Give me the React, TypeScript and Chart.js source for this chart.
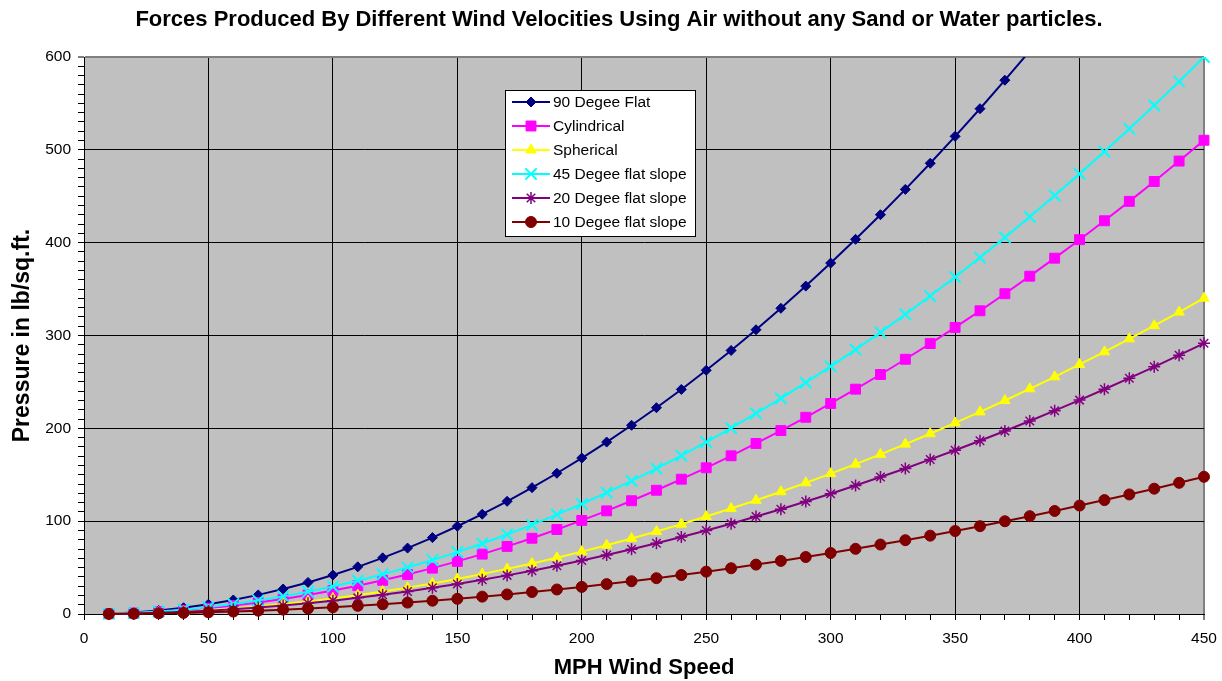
import React, { useEffect, useRef } from "react";
import { Chart, registerables } from "chart.js";
import { drawPoint } from "chart.js/helpers";

Chart.register(...registerables);

const speeds = [10, 20, 30, 40, 50, 60, 70, 80, 90, 100, 110, 120, 130, 140, 150, 160, 170, 180, 190, 200, 210, 220, 230, 240, 250, 260, 270, 280, 290, 300, 310, 320, 330, 340, 350, 360, 370, 380, 390, 400, 410, 420, 430, 440, 450];

const flat90 = [0.4, 1.7, 3.8, 6.7, 10.5, 15.1, 20.6, 26.9, 34.0, 42.0, 50.8, 60.5, 71.0, 82.3, 94.5, 107.5, 121.4, 136.1, 151.6, 168.0, 185.2, 203.3, 222.2, 241.9, 262.5, 283.9, 306.2, 329.3, 353.2, 378.0, 403.6, 430.1, 457.4, 485.5, 514.5, 544.3, 575.0, 606.5, 638.8, 672.0, 706.0, 740.9, 776.6, 813.1, 850.5];
const cylindrical = [0.3, 1.0, 2.3, 4.0, 6.3, 9.1, 12.3, 16.1, 20.4, 25.2, 30.5, 36.3, 42.6, 49.4, 56.7, 64.5, 72.8, 81.6, 91.0, 100.8, 111.1, 122.0, 133.3, 145.2, 157.5, 170.4, 183.7, 197.6, 211.9, 226.8, 242.2, 258.0, 274.4, 291.3, 308.7, 326.6, 345.0, 363.9, 383.3, 403.2, 423.6, 444.5, 465.9, 487.9, 510.3];
const spherical = [0.2, 0.7, 1.5, 2.7, 4.2, 6.0, 8.2, 10.8, 13.6, 16.8, 20.3, 24.2, 28.4, 32.9, 37.8, 43.0, 48.6, 54.4, 60.6, 67.2, 74.1, 81.3, 88.9, 96.8, 105.0, 113.6, 122.5, 131.7, 141.3, 151.2, 161.4, 172.0, 183.0, 194.2, 205.8, 217.7, 230.0, 242.6, 255.5, 268.8, 282.4, 296.4, 310.6, 325.2, 340.2];
const slope45 = [0.3, 1.2, 2.7, 4.7, 7.4, 10.7, 14.5, 19.0, 24.0, 29.6, 35.9, 42.7, 50.1, 58.1, 66.7, 75.9, 85.6, 96.0, 107.0, 118.5, 130.7, 143.4, 156.7, 170.7, 185.2, 200.3, 216.0, 232.3, 249.2, 266.7, 284.7, 303.4, 322.7, 342.5, 363.0, 384.0, 405.6, 427.9, 450.7, 474.1, 498.1, 522.7, 547.9, 573.6, 600.0];
const slope20 = [0.1, 0.6, 1.3, 2.3, 3.6, 5.2, 7.0, 9.2, 11.6, 14.4, 17.4, 20.7, 24.3, 28.2, 32.3, 36.8, 41.6, 46.6, 52.0, 57.6, 63.5, 69.7, 76.2, 82.9, 90.0, 97.3, 105.0, 112.9, 121.1, 129.6, 138.4, 147.5, 156.8, 166.5, 176.4, 186.6, 197.1, 207.9, 219.0, 230.4, 242.1, 254.0, 266.3, 278.8, 291.6];
const slope10 = [0.1, 0.3, 0.7, 1.2, 1.8, 2.6, 3.6, 4.7, 5.9, 7.3, 8.8, 10.5, 12.3, 14.3, 16.4, 18.7, 21.1, 23.7, 26.4, 29.2, 32.2, 35.3, 38.6, 42.0, 45.6, 49.3, 53.2, 57.2, 61.4, 65.7, 70.2, 74.8, 79.5, 84.4, 89.4, 94.6, 99.9, 105.4, 111.0, 116.8, 122.7, 128.8, 135.0, 141.3, 147.8];

const seriesNames = ["90 Degee Flat", "Cylindrical", "Spherical", "45 Degee flat slope", "20 Degee flat slope", "10 Degee flat slope"];
const seriesValues = [flat90, cylindrical, spherical, slope45, slope20, slope10];
const seriesColors = ["#000080", "#FF00FF", "#FFFF00", "#00FFFF", "#800080", "#800000"];
const seriesMarkers = ["rectRot", "rect", "triangle", "crossRot", "star", "circle"];
const seriesRadius = [5, 7, 6, 8, 6, 5.5];
const seriesMarkerBorder = [1, 1, 1, 2, 1.5, 1];

const titleText = "Forces Produced By Different Wind Velocities Using Air without any Sand or Water particles.";
const xTitle = "MPH Wind Speed";
const yTitle = "Pressure in lb/sq.ft.";

const FONT = "'Liberation Sans', Arial, sans-serif";

export default function App() {
  const ref = useRef<HTMLCanvasElement | null>(null);
  useEffect(() => {
    document.body.style.margin = "0";
    const canvas = ref.current!;
    const bgPlugin = {
      id: "bg",
      beforeDraw(chart: any) {
        const { ctx, chartArea: a } = chart;
        ctx.save();
        ctx.fillStyle = "#C0C0C0";
        ctx.fillRect(a.left, a.top, a.right - a.left, a.bottom - a.top);
        ctx.restore();
      },
      afterDraw(chart: any) {
        const { ctx } = chart;
        ctx.save();
        // title
        ctx.fillStyle = "#000";
        ctx.font = `bold 22px ${FONT}`;
        ctx.textAlign = "center";
        ctx.textBaseline = "middle";
        ctx.fillText(titleText, 619, 20);
        // legend
        const lx = 505, ly = 90, lw = 190, lh = 146;
        ctx.fillStyle = "#fff";
        ctx.fillRect(lx, ly, lw, lh);
        ctx.strokeStyle = "#000";
        ctx.lineWidth = 1;
        ctx.strokeRect(lx + 0.5, ly + 0.5, lw, lh);
        ctx.font = `15.5px ${FONT}`;
        ctx.textAlign = "left";
        for (let i = 0; i < seriesNames.length; i++) {
          const y = 102 + i * 24;
          ctx.strokeStyle = seriesColors[i];
          ctx.lineWidth = 2;
          ctx.beginPath();
          ctx.moveTo(512, y);
          ctx.lineTo(550, y);
          ctx.stroke();
          ctx.fillStyle = seriesColors[i];
          ctx.lineWidth = seriesMarkerBorder[i];
          drawPoint(ctx, { pointStyle: seriesMarkers[i], radius: seriesRadius[i], rotation: 0, borderWidth: seriesMarkerBorder[i] } as any, 531, y);
          ctx.fillStyle = "#000";
          ctx.fillText(seriesNames[i], 553, y + 1);
        }
        ctx.restore();
      },
    };
    const chart = new Chart(canvas, {
      type: "line",
      data: {
        datasets: seriesNames.map((name, i) => ({
          label: name,
          data: speeds.map((s, j) => ({ x: s, y: seriesValues[i][j] })),
          borderColor: seriesColors[i],
          backgroundColor: seriesColors[i],
          borderWidth: 2,
          pointStyle: seriesMarkers[i] as any,
          pointRadius: seriesRadius[i],
          pointBorderWidth: seriesMarkerBorder[i],
          pointBorderColor: seriesColors[i],
          pointBackgroundColor: seriesColors[i],
          tension: 0,
          order: seriesNames.length - 1 - i,
          clip: { left: 12, right: 12, bottom: 12, top: 0 } as any,
        })),
      },
      options: {
        animation: false,
        responsive: false,
        devicePixelRatio: 1,
        layout: { padding: { top: 57, right: 18, bottom: 0, left: 0 } },
        plugins: { legend: { display: false }, tooltip: { enabled: false }, title: { display: false } },
        scales: {
          x: {
            type: "linear",
            min: 0,
            max: 450,
            afterFit: (s: any) => { s.height = 67; s.paddingRight = 0; s.paddingLeft = 0; },
            ticks: {
              stepSize: 10,
              autoSkip: false,
              maxRotation: 0,
              padding: 9,
              color: "#000",
              font: { family: FONT, size: 15.5 },
              callback: (v: any) => (Number(v) % 50 === 0 ? String(v) : ""),
            },
            grid: {
              color: (c: any) => (c.tick && c.tick.value === 450 ? "#808080" : c.tick && c.tick.value % 50 === 0 ? "#000" : "rgba(0,0,0,0)"),
              lineWidth: (c: any) => (c.tick && c.tick.value === 450 ? 2 : 1),
              tickColor: "#000",
              tickLength: 6,
              tickWidth: 1,
            },
            border: { color: "#000", width: 1 },
            title: { display: true, text: xTitle, color: "#000", font: { family: FONT, size: 22, weight: "bold" }, padding: { top: 0, bottom: 0 } },
          },
          y: {
            type: "linear",
            min: 0,
            max: 600,
            afterFit: (s: any) => { s.width = 84; },
            ticks: {
              stepSize: 10,
              autoSkip: false,
              padding: 7,
              color: "#000",
              font: { family: FONT, size: 15.5 },
              callback: (v: any) => (Number(v) % 100 === 0 ? String(v) : ""),
            },
            grid: {
              color: (c: any) => (c.tick && c.tick.value === 600 ? "#808080" : c.tick && c.tick.value % 100 === 0 ? "#000" : "rgba(0,0,0,0)"),
              lineWidth: (c: any) => (c.tick && c.tick.value === 600 ? 2 : 1),
              tickColor: "#000",
              tickLength: 6,
              tickWidth: 1,
            },
            border: { color: "#000", width: 1 },
            title: { display: true, text: yTitle, color: "#000", font: { family: FONT, size: 23, weight: "bold" }, padding: { top: 9, bottom: 0 } },
          },
        },
      },
      plugins: [bgPlugin],
    });
    return () => chart.destroy();
  }, []);
  return (
    <div style={{ width: 1222, height: 681 }}>
      <canvas ref={ref} width={1222} height={681} />
    </div>
  );
}
